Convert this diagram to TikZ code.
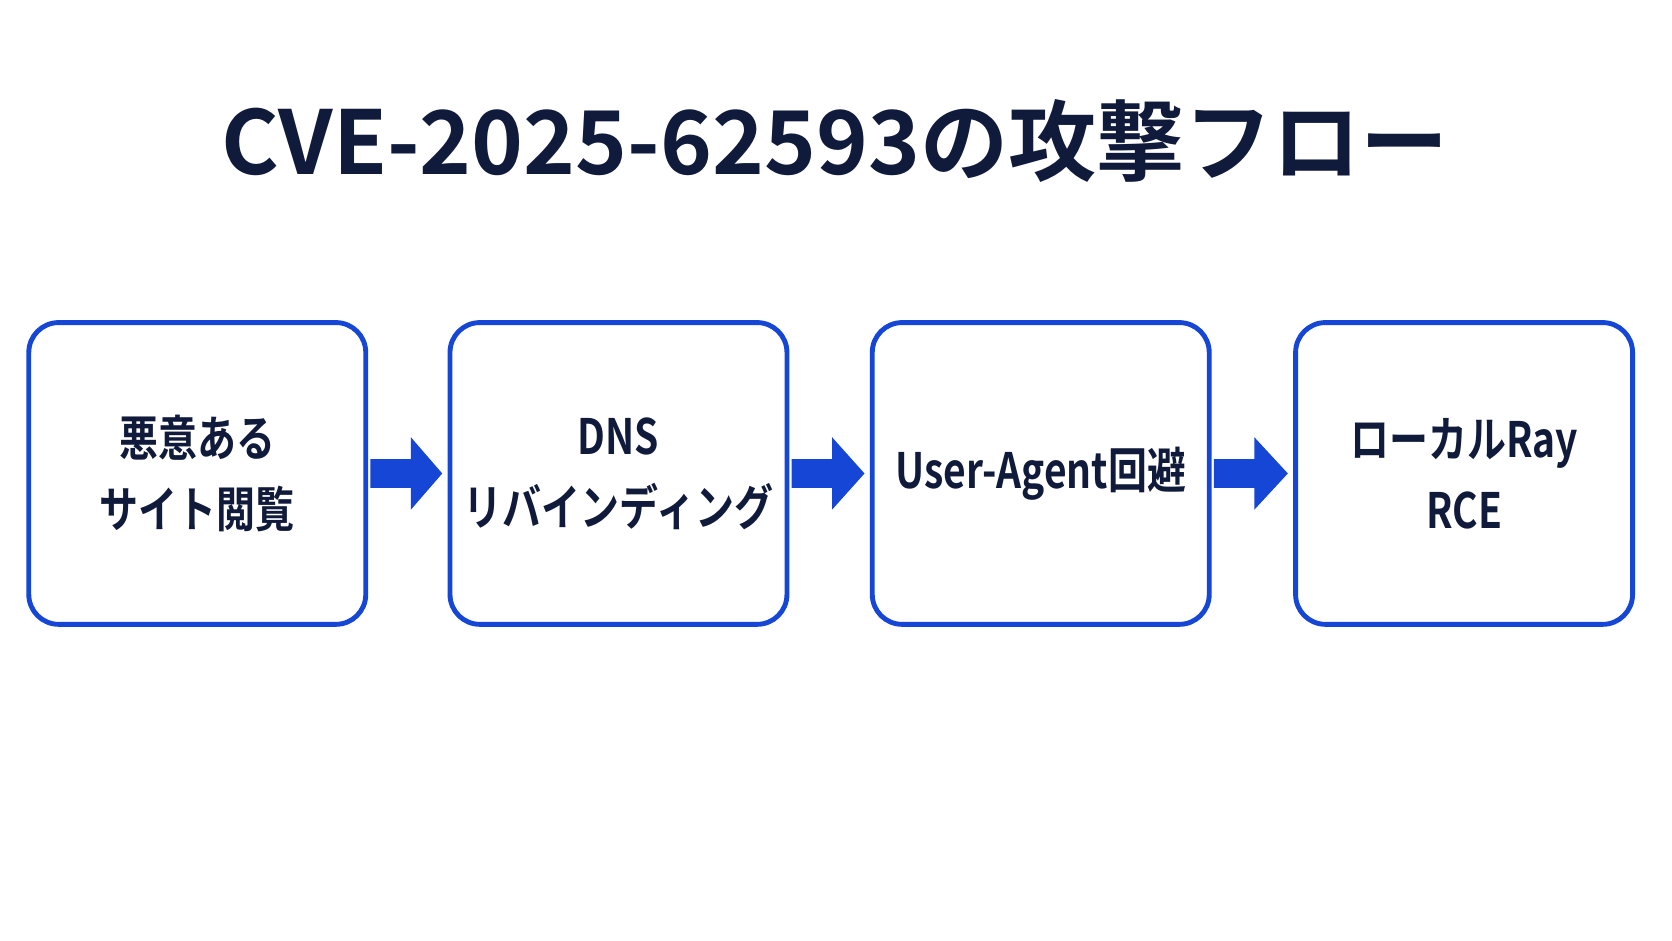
\documentclass[tikz,border=0pt]{standalone}
\usepackage{fontspec}
\setmainfont{Noto Sans CJK JP}[BoldFont={* Bold}]
\newfontfamily\boxfont{Noto Sans CJK JP Bold}[FakeStretch=0.8]
\usetikzlibrary{positioning,calc}
\definecolor{flowblue}{HTML}{1546D6}
\definecolor{titlenavy}{HTML}{101A3A}
\tikzset{
  stage/.style={draw=flowblue,line width=1.3pt,rounded corners=0.28cm,minimum width=3.16cm,minimum height=2.83cm,text width=2.9cm,inner sep=0pt,align=center,font=\boxfont\fontsize{13}{19}\selectfont,text=titlenavy},
  flow/.style={fill=flowblue}
}
\newcommand{\flowarrow}[2]{%
\fill[flow] ($(#1.east)+(0.02,-0.135)$) -- ($(#1.east)+(0.4,-0.135)$) -- ($(#1.east)+(0.4,-0.34)$) -- ($(#2.west)+(-0.05,0)$) -- ($(#1.east)+(0.4,0.34)$) -- ($(#1.east)+(0.4,0.135)$) -- ($(#1.east)+(0.02,0.135)$) -- cycle;}
\begin{document}
\begin{tikzpicture}
\useasboundingbox[fill=white] (0,0) rectangle (15.68,8.82);
\node[font=\fontsize{23.5}{28}\selectfont\bfseries,text=titlenavy] (title) at (7.83,7.5) {CVE-2025-62593の攻撃フロー};
\node[stage] (visit) at (1.85,4.38) {悪意ある\\サイト閲覧};
\node[stage] (rebind) at (5.80,4.38) {DNS\\リバインディング};
\node[stage] (agent) at (9.76,4.38) {User-Agent回避};
\node[stage] (rce) at (13.73,4.38) {ローカルRay RCE};
\flowarrow{visit}{rebind}
\flowarrow{rebind}{agent}
\flowarrow{agent}{rce}
\end{tikzpicture}
\end{document}
